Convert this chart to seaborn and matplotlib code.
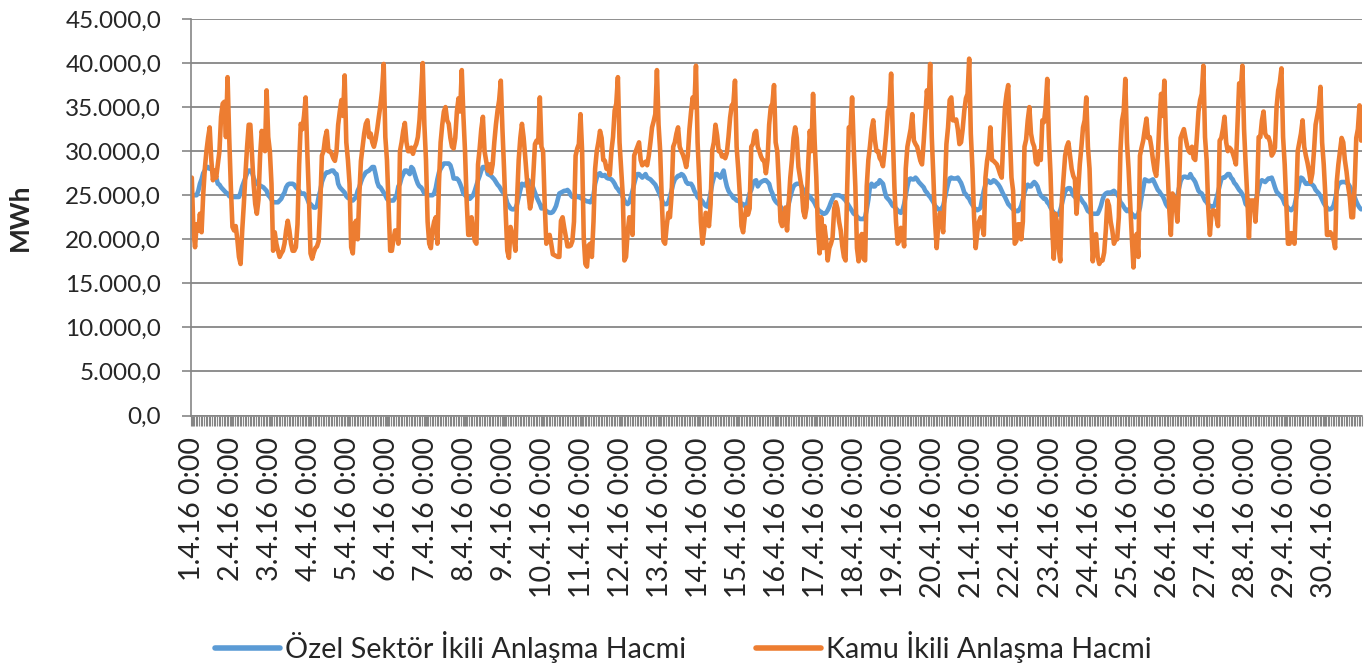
import numpy as np
import pandas as pd
import matplotlib
matplotlib.use("Agg")
import matplotlib.pyplot as plt
import matplotlib.ticker as mticker
from matplotlib.lines import Line2D
import seaborn as sns

# hourly values, April 2016, thousand MWh (one line per day)
ozel = [
    25.2, 25.0, 25.0, 25.0, 25.5, 26.3, 26.8, 27.5, 27.8, 28.2, 28.2, 28.0, 28.0, 27.6, 27.0, 27.0, 26.3, 26.2, 25.9, 25.7, 25.5, 25.3, 25.2, 24.9,
    24.8, 24.8, 24.8, 24.8, 24.8, 24.8, 25.3, 26.0, 26.5, 27.0, 27.5, 27.8, 27.8, 27.6, 27.0, 26.5, 26.3, 26.2, 26.1, 26.0, 25.9, 25.7, 25.5, 25.0,
    24.8, 24.5, 24.2, 24.2, 24.2, 24.2, 24.4, 24.6, 25.0, 25.3, 25.9, 26.2, 26.3, 26.3, 26.3, 26.2, 25.9, 25.7, 25.5, 25.2, 25.2, 25.2, 25.0, 24.6,
    24.1, 24.0, 23.8, 23.6, 23.6, 23.8, 24.8, 25.5, 26.5, 27.0, 27.4, 27.6, 27.6, 27.7, 27.8, 27.8, 27.5, 27.4, 26.3, 25.9, 25.7, 25.5, 25.3, 24.9,
    24.7, 24.6, 24.5, 24.4, 24.6, 24.8, 25.5, 25.9, 26.5, 27.0, 27.3, 27.6, 27.7, 27.8, 28.0, 28.2, 28.2, 27.4, 26.5, 26.0, 25.9, 25.6, 25.3, 25.0,
    24.6, 24.4, 24.4, 24.4, 24.4, 24.7, 25.0, 26.0, 26.3, 27.0, 27.4, 27.8, 27.8, 27.6, 27.4, 28.2, 28.0, 27.4, 26.8, 26.3, 26.0, 25.9, 25.6, 25.2,
    25.2, 25.0, 25.0, 25.0, 25.0, 25.2, 25.8, 26.8, 27.6, 28.0, 28.3, 28.6, 28.6, 28.6, 28.6, 28.4, 27.8, 26.9, 26.9, 26.9, 26.7, 26.3, 25.8, 25.2,
    25.0, 24.8, 24.6, 24.6, 24.8, 25.0, 25.5, 26.1, 26.7, 27.2, 27.8, 28.2, 28.2, 28.1, 27.4, 27.3, 27.2, 27.0, 26.8, 26.5, 26.2, 26.0, 25.7, 25.4,
    25.2, 24.8, 24.1, 23.8, 23.5, 23.4, 23.4, 23.5, 24.0, 24.8, 25.6, 26.3, 26.2, 26.1, 26.5, 26.7, 26.4, 26.3, 25.8, 25.3, 24.8, 24.4, 24.0, 23.5,
    23.8, 23.4, 23.2, 23.1, 23.0, 23.0, 23.1, 23.4, 23.8, 24.5, 25.2, 25.3, 25.4, 25.5, 25.5, 25.6, 25.4, 25.0, 24.8, 24.9, 25.0, 24.8, 24.8, 24.7,
    24.6, 24.5, 24.4, 24.3, 24.3, 24.2, 24.5, 25.0, 26.3, 27.0, 27.4, 27.5, 27.2, 27.2, 27.3, 27.0, 26.9, 26.9, 26.8, 26.6, 26.3, 25.9, 25.7, 25.4,
    25.3, 24.8, 24.4, 24.1, 24.0, 24.2, 24.8, 25.5, 26.3, 27.0, 27.4, 27.4, 27.2, 27.0, 27.2, 27.4, 27.0, 26.9, 26.8, 26.6, 26.4, 26.2, 25.8, 25.4,
    25.0, 24.5, 24.0, 24.0, 24.0, 24.2, 24.8, 25.5, 26.3, 26.8, 27.0, 27.2, 27.2, 27.4, 27.3, 27.0, 26.5, 26.3, 26.3, 26.3, 26.0, 25.5, 25.2, 24.8,
    24.6, 24.5, 24.3, 24.0, 23.8, 23.7, 24.4, 25.2, 26.3, 27.0, 27.4, 27.4, 27.2, 27.0, 27.4, 27.8, 26.8, 26.0, 25.5, 25.2, 25.0, 24.7, 24.6, 24.4,
    24.4, 24.2, 24.0, 24.0, 23.8, 23.6, 24.5, 25.2, 25.6, 26.3, 26.6, 26.7, 26.0, 26.3, 26.5, 26.6, 26.7, 26.7, 26.5, 26.3, 25.6, 25.2, 24.6, 24.3,
    24.1, 24.0, 23.7, 23.4, 23.1, 23.2, 23.5, 24.0, 24.8, 25.5, 26.0, 26.2, 26.3, 26.3, 26.3, 26.0, 25.6, 25.2, 25.1, 25.0, 24.9, 24.6, 24.4, 24.1,
    23.7, 23.4, 23.2, 23.1, 22.9, 22.9, 23.0, 23.3, 23.7, 24.2, 24.6, 25.0, 25.0, 25.0, 25.0, 24.9, 24.8, 24.6, 24.4, 24.1, 23.8, 23.5, 23.2, 22.9,
    22.8, 22.6, 22.4, 22.3, 22.3, 22.3, 22.5, 23.4, 24.5, 26.0, 26.3, 26.0, 26.0, 26.3, 26.3, 26.7, 26.5, 26.3, 25.5, 24.8, 24.6, 24.4, 24.1, 23.8,
    23.7, 23.5, 23.3, 23.1, 23.0, 23.3, 24.0, 25.0, 26.0, 26.8, 26.9, 26.8, 26.8, 27.0, 26.8, 26.5, 26.3, 26.1, 25.9, 25.5, 25.3, 25.0, 24.8, 24.5,
    24.2, 23.8, 23.6, 23.4, 23.3, 23.5, 23.8, 24.6, 25.5, 26.3, 26.9, 27.0, 26.9, 26.9, 26.9, 27.0, 26.7, 26.4, 25.9, 25.3, 25.1, 24.8, 24.6, 24.2,
    23.9, 23.6, 23.4, 23.3, 23.4, 23.6, 24.6, 25.5, 26.2, 26.7, 26.6, 26.4, 26.5, 26.7, 26.6, 26.4, 26.2, 25.9, 25.5, 25.1, 24.8, 24.4, 24.0, 23.8,
    23.6, 23.4, 23.3, 23.2, 23.2, 23.4, 23.8, 24.5, 25.3, 25.9, 26.2, 26.0, 26.0, 26.3, 26.5, 26.3, 26.0, 25.4, 25.0, 24.8, 24.6, 24.6, 24.2, 24.0,
    23.6, 23.3, 23.0, 22.9, 22.8, 22.8, 23.3, 24.0, 24.8, 25.4, 25.7, 25.8, 25.8, 25.5, 25.0, 24.8, 24.6, 24.8, 24.8, 24.5, 24.2, 24.0, 23.6, 23.2,
    23.1, 22.9, 22.9, 22.9, 22.9, 22.9, 23.3, 23.8, 24.5, 25.0, 25.2, 25.3, 25.3, 25.3, 25.4, 25.5, 25.3, 25.1, 24.8, 24.2, 24.0, 23.7, 23.4, 23.2,
    23.4, 23.1, 22.9, 22.7, 22.5, 22.7, 22.9, 23.6, 24.8, 25.8, 26.8, 26.7, 26.6, 26.6, 26.7, 26.8, 26.4, 26.0, 25.6, 25.4, 25.1, 24.9, 24.5, 24.0,
    23.7, 23.6, 23.6, 23.7, 24.1, 24.5, 24.9, 25.8, 26.6, 27.0, 27.1, 27.1, 27.0, 27.0, 27.4, 27.0, 26.8, 26.5, 26.0, 25.5, 25.3, 25.2, 24.8, 24.4,
    24.2, 23.9, 23.8, 23.7, 23.7, 23.9, 24.6, 25.3, 26.1, 26.8, 27.0, 27.0, 27.2, 27.4, 27.4, 27.0, 26.8, 26.4, 26.2, 25.9, 25.6, 25.4, 25.1, 24.7,
    24.0, 23.8, 23.6, 23.6, 23.6, 23.9, 24.2, 25.0, 25.8, 26.5, 26.7, 26.6, 26.5, 26.7, 26.9, 26.9, 27.0, 26.5, 25.9, 25.4, 25.2, 25.0, 24.8, 24.5,
    24.0, 23.8, 23.6, 23.4, 23.3, 23.5, 23.8, 24.7, 25.6, 26.4, 27.0, 26.9, 26.6, 26.3, 26.3, 26.4, 26.3, 26.2, 26.0, 25.6, 25.4, 25.2, 24.9, 24.5,
    24.1, 23.8, 23.6, 23.4, 23.4, 23.5, 23.8, 24.5, 25.5, 26.2, 26.4, 26.5, 26.5, 26.5, 26.4, 26.3, 26.0, 25.6, 25.2, 24.8, 24.3, 23.9, 23.6, 23.4,
]

kamu = [
    27.0, 21.0, 19.1, 21.7, 21.0, 22.9, 20.8, 25.0, 28.0, 30.0, 31.5, 32.7, 29.0, 26.7, 27.8, 27.0, 28.5, 30.0, 33.9, 35.4, 35.6, 31.6, 38.4, 31.6,
    26.0, 21.4, 21.0, 21.5, 20.0, 18.0, 17.2, 21.0, 24.0, 27.4, 30.5, 33.0, 33.0, 29.6, 26.3, 24.0, 22.9, 24.5, 29.5, 32.3, 31.5, 30.0, 36.9, 31.6,
    30.0, 26.3, 18.7, 20.8, 19.5, 18.7, 18.0, 18.4, 18.7, 19.5, 21.0, 22.1, 21.0, 19.5, 18.7, 18.7, 19.1, 21.7, 28.5, 33.1, 32.5, 34.0, 36.1, 30.0,
    25.0, 18.4, 17.8, 18.5, 19.0, 19.2, 19.8, 24.0, 29.5, 30.0, 31.5, 32.3, 30.0, 30.0, 29.7, 29.2, 28.9, 30.0, 33.0, 34.5, 35.8, 34.0, 38.6, 31.0,
    29.0, 26.3, 19.1, 18.4, 21.7, 22.1, 20.0, 25.0, 28.9, 30.5, 32.0, 33.1, 33.5, 31.6, 32.0, 31.0, 30.5, 31.3, 32.5, 33.9, 35.2, 36.9, 39.9, 31.6,
    29.0, 24.0, 18.7, 18.7, 20.0, 21.0, 21.0, 19.5, 30.0, 31.0, 32.3, 33.2, 31.0, 30.0, 30.0, 30.4, 29.7, 30.4, 30.8, 31.6, 33.5, 36.5, 40.0, 33.0,
    29.0, 22.0, 19.5, 19.0, 21.0, 22.0, 22.5, 19.5, 26.5, 31.0, 33.0, 34.5, 35.0, 33.5, 33.1, 31.5, 30.5, 30.3, 31.5, 34.5, 36.0, 34.5, 39.2, 34.0,
    30.0, 24.4, 20.5, 20.5, 22.5, 21.0, 19.8, 19.5, 28.5, 30.3, 32.5, 33.9, 30.0, 28.9, 27.8, 28.5, 27.5, 28.5, 31.0, 33.0, 34.6, 35.8, 38.0, 32.5,
    28.0, 23.0, 18.7, 17.9, 21.4, 20.6, 20.0, 18.7, 24.5, 29.0, 31.5, 33.1, 31.6, 29.4, 27.0, 25.2, 23.5, 24.5, 27.4, 30.8, 31.2, 31.0, 36.1, 30.5,
    30.0, 24.0, 19.5, 20.0, 20.5, 19.5, 18.3, 18.2, 18.1, 18.0, 18.0, 22.1, 22.5, 21.3, 20.3, 19.2, 19.2, 19.3, 19.8, 22.0, 29.5, 30.3, 30.8, 34.2,
    30.0, 20.2, 17.2, 16.9, 19.3, 19.5, 18.0, 22.0, 28.0, 30.0, 31.0, 32.3, 31.5, 29.0, 28.9, 28.0, 28.2, 27.3, 30.0, 31.6, 34.6, 35.4, 38.4, 31.0,
    28.0, 25.0, 17.6, 18.0, 20.8, 22.5, 21.5, 20.5, 29.5, 30.0, 30.5, 31.0, 29.0, 28.4, 28.6, 28.8, 28.4, 29.5, 31.0, 32.7, 33.4, 34.2, 39.2, 33.0,
    30.0, 24.4, 19.8, 19.5, 21.5, 23.0, 22.5, 25.0, 30.5, 31.0, 32.0, 32.7, 30.5, 30.0, 29.6, 29.0, 28.2, 29.5, 32.5, 34.5, 36.1, 35.0, 39.7, 31.0,
    27.0, 22.0, 19.5, 21.0, 23.0, 22.6, 21.5, 24.0, 30.1, 31.0, 33.0, 31.8, 30.0, 30.0, 29.4, 29.5, 29.2, 29.8, 31.6, 33.8, 35.2, 35.4, 38.0, 30.5,
    28.0, 25.0, 21.5, 20.8, 22.5, 23.6, 22.8, 23.5, 30.5, 30.8, 32.0, 32.3, 30.5, 30.0, 29.4, 29.0, 28.9, 27.5, 29.0, 33.0, 35.0, 35.4, 37.5, 31.0,
    30.0, 26.3, 22.0, 21.5, 22.5, 23.6, 21.0, 24.0, 27.0, 29.0, 31.5, 32.7, 31.5, 28.2, 27.0, 25.8, 23.2, 22.5, 23.6, 28.5, 32.3, 30.0, 36.5, 31.0,
    27.0, 21.0, 18.4, 22.5, 19.0, 21.5, 20.0, 17.6, 19.0, 19.5, 20.2, 23.5, 24.2, 23.5, 22.0, 21.0, 19.2, 18.0, 17.6, 26.0, 32.7, 32.3, 36.1, 30.5,
    26.0, 19.0, 17.5, 20.2, 20.6, 17.8, 17.6, 26.0, 29.0, 30.6, 32.5, 33.5, 31.3, 30.0, 30.0, 29.2, 28.9, 28.3, 30.0, 32.0, 34.5, 35.0, 38.8, 32.0,
    26.0, 22.0, 19.5, 19.8, 21.3, 20.8, 19.2, 28.0, 30.5, 31.5, 32.5, 34.2, 31.2, 30.8, 30.5, 29.7, 28.9, 28.5, 31.0, 34.0, 36.9, 35.0, 39.9, 31.6,
    27.0, 22.0, 19.0, 21.7, 23.0, 22.0, 20.8, 25.5, 30.8, 32.7, 35.8, 36.1, 33.5, 33.5, 33.6, 32.5, 30.8, 31.0, 32.5, 34.6, 36.0, 36.5, 40.5, 32.0,
    28.0, 22.5, 19.0, 20.8, 22.0, 22.5, 21.6, 20.5, 27.0, 28.9, 30.0, 32.7, 29.0, 28.9, 28.7, 28.5, 28.0, 27.4, 27.0, 31.5, 35.0, 36.5, 37.5, 32.0,
    27.0, 25.5, 19.5, 19.8, 21.7, 21.7, 20.0, 22.0, 30.5, 31.3, 33.5, 35.0, 32.0, 31.0, 30.5, 28.7, 28.5, 30.0, 29.0, 33.5, 33.3, 35.0, 38.2, 31.5,
    27.5, 21.5, 17.8, 22.9, 21.9, 19.0, 17.5, 24.4, 27.0, 29.5, 30.5, 31.0, 29.5, 28.0, 27.2, 26.8, 22.9, 25.5, 28.5, 30.5, 32.7, 33.5, 36.1, 30.5,
    28.0, 22.0, 17.5, 20.4, 20.6, 18.0, 17.2, 17.6, 17.6, 18.5, 21.0, 24.4, 23.8, 22.0, 21.0, 19.5, 20.0, 20.0, 22.5, 30.0, 33.5, 34.5, 38.2, 31.0,
    28.0, 24.0, 20.2, 16.8, 20.2, 20.6, 18.0, 29.5, 30.4, 31.2, 32.5, 33.7, 31.5, 31.6, 30.5, 29.0, 27.8, 27.2, 29.5, 33.5, 36.5, 34.0, 38.0, 31.5,
    28.0, 23.5, 20.5, 25.2, 24.8, 23.8, 22.0, 26.0, 31.5, 32.0, 32.5, 31.5, 30.6, 30.0, 29.8, 30.5, 29.2, 29.0, 31.6, 34.5, 35.8, 36.5, 39.7, 31.6,
    29.0, 23.5, 20.5, 22.9, 23.3, 23.2, 22.5, 21.5, 31.2, 31.5, 32.5, 33.9, 31.0, 30.0, 30.4, 30.2, 29.8, 29.2, 28.5, 33.0, 37.7, 37.0, 39.7, 32.5,
    28.5, 24.8, 20.2, 24.4, 24.4, 24.4, 22.0, 25.0, 31.6, 31.6, 33.5, 34.5, 32.0, 31.6, 31.6, 31.0, 29.5, 29.8, 30.4, 35.0, 36.9, 37.8, 39.4, 31.6,
    28.5, 24.0, 19.5, 19.5, 20.7, 20.2, 19.5, 24.0, 30.0, 31.0, 32.0, 33.5, 30.5, 29.5, 28.7, 27.7, 26.5, 27.5, 30.0, 33.0, 34.0, 35.0, 37.3, 31.0,
    28.5, 25.0, 20.5, 20.5, 20.8, 20.5, 20.0, 19.0, 26.5, 28.5, 30.0, 31.5, 31.0, 29.0, 27.7, 26.0, 24.8, 22.5, 22.5, 26.0, 31.5, 32.5, 35.2, 31.2,
]

day_labels = [f"{d}.4.16 0:00" for d in range(1, 31)]
series_names = ["Özel Sektör İkili Anlaşma Hacmi", "Kamu İkili Anlaşma Hacmi"]
colors = ["#5B9BD5", "#ED7D31"]
grey = "#868686"

hours = np.arange(len(ozel))
df = pd.DataFrame({
    "saat": np.concatenate([hours, hours]),
    "MWh": np.concatenate([np.array(ozel), np.array(kamu)]) * 1000,
    "seri": [series_names[0]] * len(ozel) + [series_names[1]] * len(kamu),
})

sns.set_style("white")
plt.rcParams["font.family"] = ["Lato", "DejaVu Sans"]

fig, ax = plt.subplots(figsize=(13.71, 6.64), dpi=100)
fig.subplots_adjust(left=0.1393, right=0.9934, top=0.9714, bottom=0.3742)

sns.lineplot(data=df, x="saat", y="MWh", hue="seri", hue_order=series_names,
             palette=colors, linewidth=3.3, legend=False, ax=ax,
             solid_joinstyle="round", solid_capstyle="round")

ax.set_xlim(-0.5, len(ozel) - 0.5)
ax.set_ylim(0, 45000)
ax.yaxis.set_major_locator(mticker.MultipleLocator(5000))


def tr_fmt(v, pos):
    s = f"{v:,.1f}"
    return s.replace(",", "#").replace(".", ",").replace("#", ".")


ax.yaxis.set_major_formatter(mticker.FuncFormatter(tr_fmt))
ax.grid(axis="y", color=grey, linewidth=1.3)
ax.set_axisbelow(True)

ax.set_xticks(np.arange(0, len(ozel), 24))
ax.set_xticklabels(day_labels, rotation=90, va="top", ha="center")
ax.set_xticks(np.arange(-0.5, len(ozel), 1), minor=True)
ax.tick_params(axis="x", which="both", bottom=True, length=7.5, width=0.8,
               color=grey, direction="out", pad=8, labelsize=20.5)
ax.tick_params(axis="y", which="major", left=True, length=6.5, width=1.2,
               color=grey, direction="out", pad=15, labelsize=17.5)

for side in ["top", "right"]:
    ax.spines[side].set_visible(False)
for side in ["left", "bottom"]:
    ax.spines[side].set_color(grey)
    ax.spines[side].set_linewidth(1.2)

ax.set_xlabel("")
ax.set_ylabel("")
fig.text(20 / 1371, 1 - 217 / 664, "MWh", rotation=90, ha="center", va="center",
         fontsize=19, fontweight="bold")

handles = [Line2D([], [], color=c, linewidth=4) for c in colors]
fig.legend(handles, series_names, loc="center", ncol=2, frameon=False,
           bbox_to_anchor=(0.4986, 1 - 647 / 664), fontsize=20.7,
           handlelength=2.26, handletextpad=0.17, columnspacing=2.43)

fig.savefig("out.png", dpi=100)
